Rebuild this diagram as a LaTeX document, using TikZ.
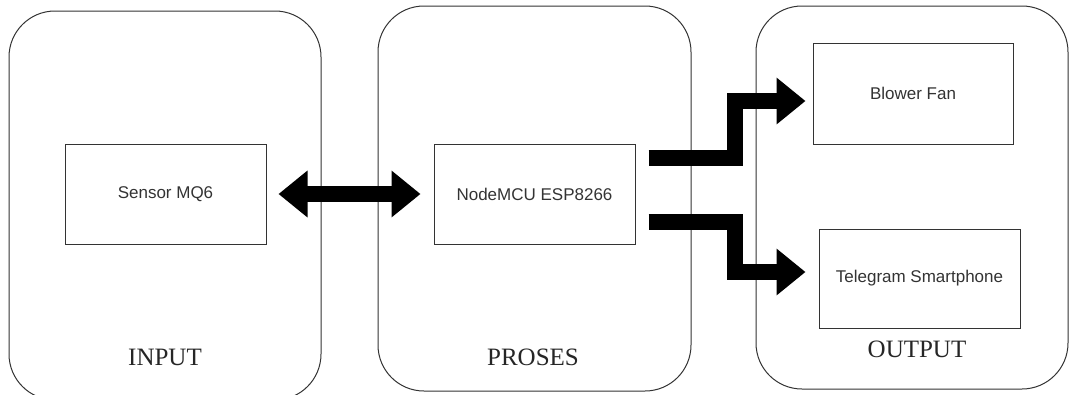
\documentclass[tikz,border=0pt]{standalone}
\usepackage{fontspec}
\setmainfont{Liberation Serif}
\newfontfamily\boxfont{Liberation Sans}
\usetikzlibrary{arrows.meta,calc}
\begin{document}
\begin{tikzpicture}[x=1pt,y=-1pt,
  container/.style={draw=black!80,line width=1pt,rounded corners=46pt},
  block/.style={draw=black!80,line width=1pt,rectangle,inner sep=0pt,
    font=\boxfont\fontsize{17}{20}\selectfont,text=black!80},
  heading/.style={font=\fontsize{25}{30}\selectfont,text=black!85,inner sep=0pt},
  bigarrow/.style={line width=16pt,line join=miter,line cap=butt,
    -{Triangle[length=29pt,width=45pt]}},
  bigdouble/.style={line width=16pt,line cap=butt,
    {Triangle[length=29pt,width=45pt]}-{Triangle[length=29pt,width=45pt]}}]
\useasboundingbox (0,0) rectangle (1069,394);
% containers
\draw[container] (9,11) rectangle (321,400);
\draw[container] (378,6) rectangle (691,391);
\draw[container] (756,6) rectangle (1068,389);
% headings
\node[heading] (hin) at (165,357) {INPUT};
\node[heading] (hpr) at (533,357) {PROSES};
\node[heading] (hout) at (917,349) {OUTPUT};
% blocks
\node[block,minimum width=201pt,minimum height=100pt] (sensor) at (165.5,194) {Sensor MQ6};
\node[block,minimum width=201pt,minimum height=100pt] (mcu) at (534.5,194) {NodeMCU ESP8266};
\node[block,minimum width=200pt,minimum height=101pt] (fan) at (913,93.5) {Blower Fan};
\node[block,minimum width=201pt,minimum height=99pt] (tele) at (919.5,278.5) {Telegram Smartphone};
% connectors
\draw[bigdouble,shorten <=12pt,shorten >=13pt] (sensor.east) -- (mcu.west);
\draw[bigarrow] ($(mcu.east)+(13,-36)$) -- ++(86,0) |- ($(fan.west)+(-7,7.5)$);
\draw[bigarrow] ($(mcu.east)+(13,28)$) -- ++(86,0) |- ($(tele.west)+(-13,-6.5)$);
\end{tikzpicture}
\end{document}
